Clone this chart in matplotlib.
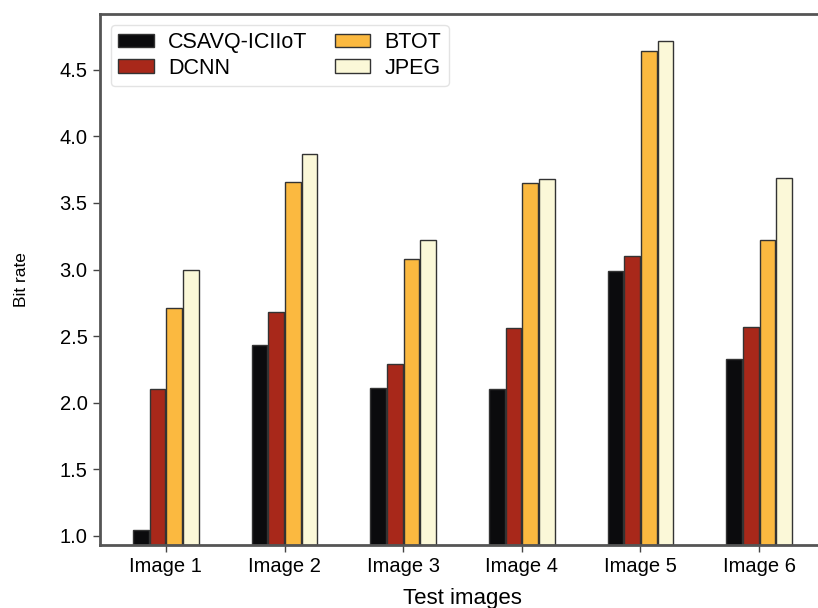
import matplotlib
matplotlib.use("Agg")
import matplotlib.pyplot as plt
import numpy as np

plt.rcParams['font.family'] = ['Liberation Sans', 'DejaVu Sans']

categories = ["Image 1", "Image 2", "Image 3", "Image 4", "Image 5", "Image 6"]
series_names = ["CSAVQ-ICIIoT", "DCNN", "BTOT", "JPEG"]
csavq = [1.04, 2.43, 2.11, 2.10, 2.99, 2.33]
dcnn = [2.10, 2.68, 2.29, 2.56, 3.10, 2.57]
btot = [2.71, 3.66, 3.08, 3.65, 4.64, 3.22]
jpeg = [3.00, 3.87, 3.22, 3.68, 4.72, 3.69]
colors = ["#0b0b0d", "#a8281a", "#fbb940", "#fbf8d8"]

fig = plt.figure(figsize=(8.18, 6.08), dpi=100)
ax = fig.add_axes([100/818, 1 - 545/608, 725/818, (545-14)/608])

x = np.arange(len(categories))
w = 0.14
bottom = 0.93
for i, (vals, name, c) in enumerate(zip([csavq, dcnn, btot, jpeg], series_names, colors)):
    offs = (i - 1.5) * w
    ax.bar(x + offs, np.array(vals) - bottom, width=w * 0.95, bottom=bottom,
           color=c, edgecolor="#333333", linewidth=1.0, label=name)

ax.set_xlim(-0.555, 5.555)
ax.set_ylim(bottom, 4.92)
ax.set_xticks(x)
ax.set_xticklabels(categories, fontsize=14.5)
ax.set_yticks([1.0, 1.5, 2.0, 2.5, 3.0, 3.5, 4.0, 4.5])
ax.set_yticklabels(["1.0", "1.5", "2.0", "2.5", "3.0", "3.5", "4.0", "4.5"], fontsize=14.5)
ax.tick_params(axis='both', length=5, width=1, color="#444444", pad=4)
for s in ax.spines.values():
    s.set_color("#555555")
    s.set_linewidth(2)
ax.set_xlabel("Test images", fontsize=16, labelpad=8)
ax.set_ylabel("Bit rate", fontsize=12.5, labelpad=22)

leg = ax.legend(ncol=2, loc="upper left", fontsize=15.5, frameon=True,
                handlelength=1.67, handleheight=0.56, columnspacing=1.25,
                borderpad=0.35, labelspacing=0.2, handletextpad=0.65)
leg.get_frame().set_edgecolor("#dddddd")
leg.get_frame().set_linewidth(1)

fig.savefig("out.png", dpi=100)
